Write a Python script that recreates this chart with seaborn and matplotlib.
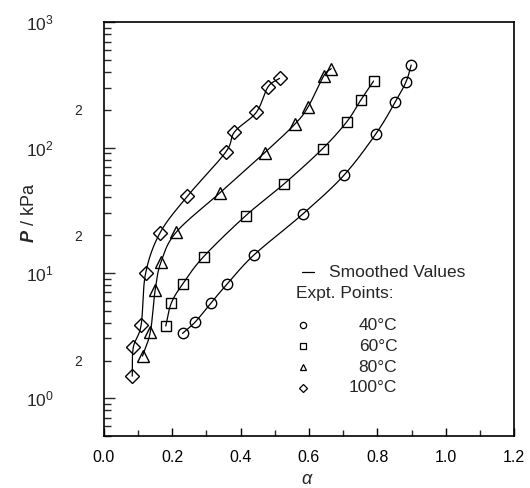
import numpy as np
import pandas as pd
import matplotlib
matplotlib.use("Agg")
import matplotlib.pyplot as plt
import seaborn as sns
from matplotlib.ticker import FixedLocator, FixedFormatter, FuncFormatter

# ---- data ----
alpha_40 = [0.230, 0.268, 0.314, 0.361, 0.439, 0.582, 0.702, 0.796, 0.852, 0.884, 0.899]
p_40 = [3.29, 4.08, 5.79, 8.17, 13.9, 29.5, 60.0, 129, 230, 335, 455]

alpha_60 = [0.181, 0.197, 0.230, 0.292, 0.415, 0.528, 0.640, 0.711, 0.751, 0.789]
p_60 = [3.77, 5.72, 8.12, 13.5, 28.6, 51.5, 98.0, 161, 238, 339]

alpha_80 = [0.113, 0.136, 0.150, 0.167, 0.212, 0.339, 0.470, 0.558, 0.597, 0.643, 0.665]
p_80 = [2.17, 3.39, 7.30, 12.2, 21.2, 43.4, 90.7, 153, 210, 372, 426]

alpha_100 = [0.083, 0.086, 0.109, 0.122, 0.164, 0.244, 0.356, 0.382, 0.446, 0.480, 0.514]
p_100 = [1.50, 2.54, 3.84, 9.90, 20.8, 40.8, 91.6, 133, 191, 304, 356]

temps = ["40°C", "60°C", "80°C", "100°C"]
x_ticks = [0.0, 0.2, 0.4, 0.6, 0.8, 1.0, 1.2]
x_tick_labels = ["0.0", "0.2", "0.4", "0.6", "0.8", "1.0", "1.2"]
y_major = [1, 10, 100, 1000]
y_major_labels = ["$10^{0}$", "$10^{1}$", "$10^{2}$", "$10^{3}$"]
y_minor_labeled = [2, 20, 200]

series = {"40°C": (alpha_40, p_40), "60°C": (alpha_60, p_60),
          "80°C": (alpha_80, p_80), "100°C": (alpha_100, p_100)}


def smooth_curve(a, p, n=20):
    """Catmull-Rom curve through the points, in (alpha, log10 P) space."""
    x = np.asarray(a, float) / 1.2
    y = np.log10(np.asarray(p, float)) / 3.3
    pts = np.column_stack([x, y])
    ext = np.vstack([2 * pts[0] - pts[1], pts, 2 * pts[-1] - pts[-2]])
    out = []
    for i in range(1, len(ext) - 2):
        p0, p1, p2, p3 = ext[i - 1], ext[i], ext[i + 1], ext[i + 2]
        t = np.linspace(0, 1, n, endpoint=False)[:, None]
        seg = 0.5 * ((2 * p1) + (-p0 + p2) * t + (2 * p0 - 5 * p1 + 4 * p2 - p3) * t ** 2
                     + (-p0 + 3 * p1 - 3 * p2 + p3) * t ** 3)
        out.append(seg)
    out.append(pts[-1][None, :])
    out = np.vstack(out)
    return out[:, 0] * 1.2, 10 ** (out[:, 1] * 3.3)


frames = []
curve_frames = []
for t in temps:
    a, p = series[t]
    frames.append(pd.DataFrame({"alpha": a, "P": p, "T": t}))
    ca, cp = smooth_curve(a, p)
    curve_frames.append(pd.DataFrame({"alpha": ca, "P": cp, "T": t}))
df = pd.concat(frames, ignore_index=True)
curves = pd.concat(curve_frames, ignore_index=True)

sns.set_theme(style="ticks")
plt.rcParams["font.family"] = ["Liberation Sans", "DejaVu Sans"]
plt.rcParams["mathtext.fontset"] = "custom"
plt.rcParams["mathtext.rm"] = "Liberation Sans"
plt.rcParams["mathtext.it"] = "Liberation Sans:italic"
plt.rcParams["mathtext.bf"] = "Liberation Sans:bold:italic"

fig = plt.figure(figsize=(5.3, 4.88), dpi=100)
ax = fig.add_axes([0.196, 0.1066, 0.774, 0.848])

markers = {"40°C": "o", "60°C": "s", "80°C": "^", "100°C": "D"}
msizes = {"40°C": 7.5, "60°C": 7.5, "80°C": 8, "100°C": 7}

for t in temps:
    csub = curves[curves["T"] == t]
    sns.lineplot(data=csub, x="alpha", y="P", ax=ax, color="black", lw=0.9,
                 sort=False, estimator=None, legend=False)
    sub = df[df["T"] == t]
    ax.plot(sub["alpha"], sub["P"], linestyle="none", marker=markers[t],
            ms=msizes[t], mfc="none", mec="black", mew=1.0, zorder=3)

ax.set_yscale("log")
ax.set_xlim(0, 1.2)
ax.set_ylim(0.5, 1000)

# x ticks
ax.xaxis.set_major_locator(FixedLocator(x_ticks))
ax.xaxis.set_major_formatter(FixedFormatter(x_tick_labels))
ax.xaxis.set_minor_locator(FixedLocator(np.arange(0.1, 1.2, 0.2)))
ax.tick_params(axis="x", which="major", direction="in", length=6, width=1,
               pad=10, labelsize=11.5, color="black", labelcolor="black")
ax.tick_params(axis="x", which="minor", direction="in", length=4, width=1)

# y ticks
ax.yaxis.set_major_locator(FixedLocator(y_major))
ax.yaxis.set_major_formatter(FixedFormatter(y_major_labels))
minor = []
for d in [0.1, 1, 10, 100]:
    for k in range(2, 10):
        minor.append(k * d)
minor = [m for m in minor if 0.5 <= m <= 1000]
ax.yaxis.set_minor_locator(FixedLocator(minor))
ax.yaxis.set_minor_formatter(FuncFormatter(
    lambda v, pos: "2" if any(abs(v - m) < 1e-6 * m for m in y_minor_labeled) else ""))
ax.tick_params(axis="y", which="major", direction="in", length=8, width=1,
               pad=36, labelsize=12.5)
ax.tick_params(axis="y", which="minor", direction="in", length=5, width=1,
               pad=16, labelsize=10)

for s in ax.spines.values():
    s.set_color("black")
    s.set_linewidth(1.2)

ax.set_xlabel(r"$\alpha$", fontsize=13)
ax.xaxis.set_label_coords(0.497, -0.085)
ax.set_ylabel(r"$\mathbf{P}$ / kPa", fontsize=13)
ax.yaxis.set_label_coords(-0.16, 0.54)

# legend drawn as a text block
tr = ax.transAxes
def ax_xy(px, py):
    return ((px - 104) / 411.0, (436 - py) / 414.0)

x0, y0 = ax_xy(307, 272)
ax.plot([x0 - 0.012, x0 + 0.018], [y0, y0], color="black", lw=0.9, transform=tr)
xt, yt = ax_xy(330, 272)
ax.text(xt, yt, "Smoothed Values", transform=tr, fontsize=12.5, va="center", ha="left")
xt, yt = ax_xy(296, 293)
ax.text(xt, yt, "Expt. Points:", transform=tr, fontsize=12.5, va="center", ha="left")
rows_y = [325, 346, 367, 388]
for t, py in zip(temps, rows_y):
    mx, my = ax_xy(303, py)
    ax.plot([mx], [my], marker=markers[t], ms=msizes[t] * 0.6, mfc="none",
            mec="black", mew=0.9, transform=tr, linestyle="none")
    lx, ly = ax_xy(398, py)
    ax.text(lx, ly, t, transform=tr, fontsize=12.5, va="center", ha="right")

fig.savefig("out.png", dpi=100)
